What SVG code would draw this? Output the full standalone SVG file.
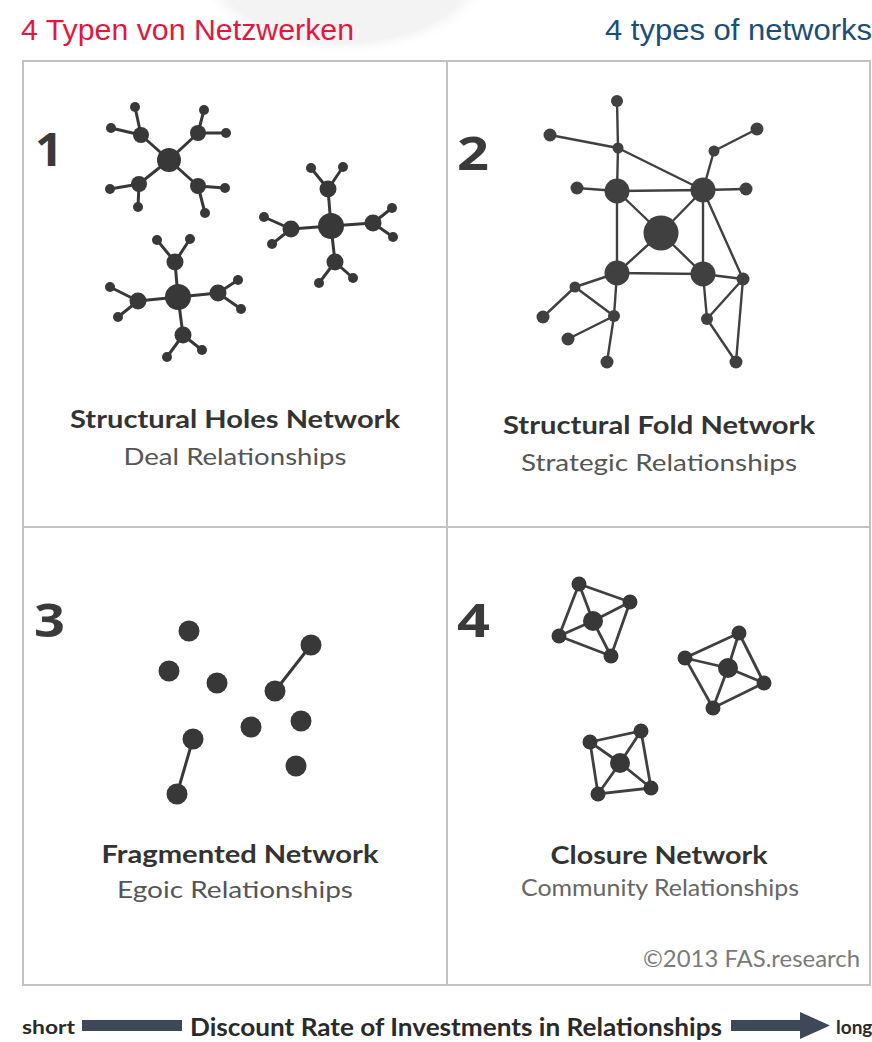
<svg xmlns="http://www.w3.org/2000/svg" width="872" height="1042" viewBox="0 0 872 1042">
  <defs>
    <radialGradient id="glow" cx="0.5" cy="0.5" r="0.5">
      <stop offset="0" stop-color="#f2f2f2"/>
      <stop offset="0.85" stop-color="#f3f3f3"/>
      <stop offset="1" stop-color="#ffffff" stop-opacity="0"/>
    </radialGradient>
  </defs>
  <style>
    .frame { fill: none; stroke: #c2c2c2; stroke-width: 2; }
    .edge { stroke: #383838; stroke-width: 3; stroke-linecap: round; fill: none; }
    .edge2 { stroke: #404040; stroke-width: 2.4; stroke-linecap: round; fill: none; }
    .n { fill: #383838; }
    .n2 { fill: #404040; }
    .head { font-family: "Liberation Sans Narrow", "Liberation Sans", sans-serif; font-size: 30px; }
    .num { font-family: "Open Sans", "Liberation Sans", sans-serif; font-weight: bold; font-size: 46px; fill: #3a3a3a; }
    .title { font-family: "Lato", "Open Sans", sans-serif; font-weight: bold; font-size: 25px; fill: #333; text-anchor: middle; }
    .sub { font-family: "Lato", "Open Sans", sans-serif; font-size: 24px; fill: #555; text-anchor: middle; }
    .foot { font-family: "Lato", "Open Sans", sans-serif; font-weight: bold; fill: #2a2a2a; }
  </style>

  <rect width="872" height="1042" fill="#ffffff"/>
  <!-- faint sphere in the page background -->
  <ellipse cx="345" cy="-30" rx="150" ry="85" fill="url(#glow)"/>

  <!-- headings -->
  <text class="head" x="21" y="40" fill="#e2173f" textLength="333" lengthAdjust="spacingAndGlyphs">4 Typen von Netzwerken</text>
  <text class="head" x="605" y="40" fill="#1b4e79" textLength="267" lengthAdjust="spacingAndGlyphs">4 types of networks</text>

  <!-- quadrant grid -->
  <g id="grid">
    <rect class="frame" x="23" y="61" width="847" height="924"/>
    <line class="frame" x1="447" y1="61" x2="447" y2="985"/>
    <line class="frame" x1="23" y1="527" x2="870" y2="527"/>
  </g>

  <!-- quadrant numbers -->
  <text class="num" x="35" y="166" textLength="28" lengthAdjust="spacingAndGlyphs">1</text>
  <text class="num" x="457" y="170" textLength="32" lengthAdjust="spacingAndGlyphs">2</text>
  <text class="num" x="34" y="637" textLength="31" lengthAdjust="spacingAndGlyphs">3</text>
  <text class="num" x="457" y="637" textLength="33" lengthAdjust="spacingAndGlyphs">4</text>

  <!-- connectors -->
  <g id="connectors">
    <!-- 1: structural holes, star A -->
    <g class="edge">
      <path d="M169 160L141 135M169 160L198 133M169 160L139 184M169 160L198 186"/>
      <path d="M141 135L135 107M141 135L111 128M198 133L204 110M198 133L226 133"/>
      <path d="M139 184L110 189M139 184L138 207M198 186L225 188M198 186L205 213"/>
      <!-- star B -->
      <path d="M331 226L328 189M331 226L291 229M331 226L373 223M331 226L335 262"/>
      <path d="M328 189L311 168M328 189L343 167M291 229L264 217M291 229L272 244"/>
      <path d="M373 223L392 208M373 223L393 237M335 262L319 283M335 262L353 278"/>
      <!-- star C -->
      <path d="M178 297L175 262M178 297L138 301M178 297L218 293M178 297L183 335"/>
      <path d="M175 262L157 240M175 262L190 239M138 301L110 287M138 301L118 317"/>
      <path d="M218 293L238 280M218 293L241 309M183 335L167 357M183 335L202 350"/>
    </g>
    <!-- 2: structural fold -->
    <g class="edge2">
      <path d="M617 101L618 148M550 135L618 148M618 148L617 191M618 148L703 190"/>
      <path d="M714 151L757 129M714 151L703 190M617 191L577 188M703 190L746 189"/>
      <path d="M617 191L703 190L703 274L617 273Z"/>
      <path d="M617 191L661 233M703 190L661 233M617 273L661 233M703 274L661 233"/>
      <path d="M703 190L743 279M703 274L743 279M703 274L707 319M707 319L743 279M743 279L736 362M707 319L736 362"/>
      <path d="M617 273L575 287M575 287L543 317M575 287L614 316M617 273L614 316M614 316L568 339M614 316L607 362"/>
    </g>
    <!-- 3: fragmented -->
    <g class="edge">
      <path d="M311 645L275 691M193 739L177 794"/>
    </g>
    <!-- 4: closure -->
    <g class="edge2" style="stroke-width:2.8">
      <path d="M579 584L630 602L611 656L559 636Z"/>
      <path d="M593 621L579 584M593 621L630 602M593 621L611 656M593 621L559 636"/>
      <path d="M739 633L764 683L713 708L685 658Z"/>
      <path d="M728 668L739 633M728 668L764 683M728 668L713 708M728 668L685 658"/>
      <path d="M590 742L641 731L651 788L598 794Z"/>
      <path d="M620 763L590 742M620 763L641 731M620 763L651 788M620 763L598 794"/>
    </g>
  </g>

  <!-- 1: structural holes network nodes -->
  <g id="holes-a" class="n">
    <g id="h-a0"><circle cx="169" cy="160" r="12"/></g>
    <g id="h-a1"><circle cx="141" cy="135" r="8"/></g>
    <g id="h-a2"><circle cx="198" cy="133" r="8"/></g>
    <g id="h-a3"><circle cx="139" cy="184" r="8"/></g>
    <g id="h-a4"><circle cx="198" cy="186" r="8"/></g>
    <g id="h-a5"><circle cx="135" cy="107" r="5"/></g>
    <g id="h-a6"><circle cx="111" cy="128" r="5"/></g>
    <g id="h-a7"><circle cx="204" cy="110" r="5"/></g>
    <g id="h-a8"><circle cx="226" cy="133" r="5"/></g>
    <g id="h-a9"><circle cx="110" cy="189" r="5"/></g>
    <g id="h-a10"><circle cx="138" cy="207" r="5"/></g>
    <g id="h-a11"><circle cx="225" cy="188" r="5"/></g>
    <g id="h-a12"><circle cx="205" cy="213" r="5"/></g>
  </g>
  <g id="holes-b" class="n">
    <g id="h-b0"><circle cx="331" cy="226" r="13"/></g>
    <g id="h-b1"><circle cx="328" cy="189" r="8.5"/></g>
    <g id="h-b2"><circle cx="291" cy="229" r="8.5"/></g>
    <g id="h-b3"><circle cx="373" cy="223" r="8.5"/></g>
    <g id="h-b4"><circle cx="335" cy="262" r="8.5"/></g>
    <g id="h-b5"><circle cx="311" cy="168" r="5"/></g>
    <g id="h-b6"><circle cx="343" cy="167" r="5"/></g>
    <g id="h-b7"><circle cx="264" cy="217" r="5"/></g>
    <g id="h-b8"><circle cx="272" cy="244" r="5"/></g>
    <g id="h-b9"><circle cx="392" cy="208" r="5"/></g>
    <g id="h-b10"><circle cx="393" cy="237" r="5"/></g>
    <g id="h-b11"><circle cx="319" cy="283" r="5"/></g>
    <g id="h-b12"><circle cx="353" cy="278" r="5"/></g>
  </g>
  <g id="holes-c" class="n">
    <g id="h-c0"><circle cx="178" cy="297" r="13"/></g>
    <g id="h-c1"><circle cx="175" cy="262" r="8.5"/></g>
    <g id="h-c2"><circle cx="138" cy="301" r="8.5"/></g>
    <g id="h-c3"><circle cx="218" cy="293" r="8.5"/></g>
    <g id="h-c4"><circle cx="183" cy="335" r="8.5"/></g>
    <g id="h-c5"><circle cx="157" cy="240" r="5"/></g>
    <g id="h-c6"><circle cx="190" cy="239" r="5"/></g>
    <g id="h-c7"><circle cx="110" cy="287" r="5"/></g>
    <g id="h-c8"><circle cx="118" cy="317" r="5"/></g>
    <g id="h-c9"><circle cx="238" cy="280" r="5"/></g>
    <g id="h-c10"><circle cx="241" cy="309" r="5"/></g>
    <g id="h-c11"><circle cx="167" cy="357" r="5"/></g>
    <g id="h-c12"><circle cx="202" cy="350" r="5"/></g>
  </g>

  <!-- 2: structural fold network nodes -->
  <g id="fold" class="n2">
    <g id="f-top"><circle cx="617" cy="101" r="6"/></g>
    <g id="f-farleft"><circle cx="550" cy="135" r="6.5"/></g>
    <g id="f-a"><circle cx="618" cy="148" r="5.5"/></g>
    <g id="f-rtop"><circle cx="757" cy="129" r="6.5"/></g>
    <g id="f-b"><circle cx="714" cy="151" r="5.5"/></g>
    <g id="f-tl"><circle cx="617" cy="191" r="12.5"/></g>
    <g id="f-lleaf"><circle cx="577" cy="188" r="6.5"/></g>
    <g id="f-tr"><circle cx="703" cy="190" r="12.5"/></g>
    <g id="f-rleaf"><circle cx="746" cy="189" r="6.5"/></g>
    <g id="f-center"><circle cx="661" cy="233" r="17.5"/></g>
    <g id="f-bl"><circle cx="617" cy="273" r="12.5"/></g>
    <g id="f-br"><circle cx="703" cy="274" r="12.5"/></g>
    <g id="f-c"><circle cx="743" cy="279" r="6.5"/></g>
    <g id="f-d"><circle cx="575" cy="287" r="5.5"/></g>
    <g id="f-e"><circle cx="614" cy="316" r="6"/></g>
    <g id="f-f"><circle cx="543" cy="317" r="6.5"/></g>
    <g id="f-g"><circle cx="707" cy="319" r="6"/></g>
    <g id="f-h"><circle cx="568" cy="339" r="6.5"/></g>
    <g id="f-i"><circle cx="607" cy="362" r="6.5"/></g>
    <g id="f-j"><circle cx="736" cy="362" r="6.5"/></g>
  </g>

  <!-- 3: fragmented network nodes -->
  <g id="fragmented" class="n">
    <g id="g-1"><circle cx="189" cy="631" r="10.5"/></g>
    <g id="g-2"><circle cx="169" cy="671" r="10.5"/></g>
    <g id="g-3"><circle cx="217" cy="683" r="10.5"/></g>
    <g id="g-4"><circle cx="311" cy="645" r="10.5"/></g>
    <g id="g-5"><circle cx="275" cy="691" r="10.5"/></g>
    <g id="g-6"><circle cx="251" cy="727" r="10.5"/></g>
    <g id="g-7"><circle cx="301" cy="721" r="10.5"/></g>
    <g id="g-8"><circle cx="193" cy="739" r="10.5"/></g>
    <g id="g-9"><circle cx="177" cy="794" r="10.5"/></g>
    <g id="g-10"><circle cx="296" cy="766" r="10.5"/></g>
  </g>

  <!-- 4: closure network nodes -->
  <g id="closure-a" class="n">
    <g id="c-a0"><circle cx="593" cy="621" r="10"/></g>
    <g id="c-a1"><circle cx="579" cy="584" r="7.5"/></g>
    <g id="c-a2"><circle cx="630" cy="602" r="7.5"/></g>
    <g id="c-a3"><circle cx="611" cy="656" r="7.5"/></g>
    <g id="c-a4"><circle cx="559" cy="636" r="7.5"/></g>
  </g>
  <g id="closure-b" class="n">
    <g id="c-b0"><circle cx="728" cy="668" r="10"/></g>
    <g id="c-b1"><circle cx="739" cy="633" r="7.5"/></g>
    <g id="c-b2"><circle cx="764" cy="683" r="7.5"/></g>
    <g id="c-b3"><circle cx="713" cy="708" r="7.5"/></g>
    <g id="c-b4"><circle cx="685" cy="658" r="7.5"/></g>
  </g>
  <g id="closure-c" class="n">
    <g id="c-c0"><circle cx="620" cy="763" r="10"/></g>
    <g id="c-c1"><circle cx="590" cy="742" r="7.5"/></g>
    <g id="c-c2"><circle cx="641" cy="731" r="7.5"/></g>
    <g id="c-c3"><circle cx="651" cy="788" r="7.5"/></g>
    <g id="c-c4"><circle cx="598" cy="794" r="7.5"/></g>
  </g>

  <!-- captions -->
  <text class="title" x="235" y="428" textLength="330" lengthAdjust="spacingAndGlyphs">Structural Holes Network</text>
  <text class="sub" x="235" y="465" textLength="223" lengthAdjust="spacingAndGlyphs">Deal Relationships</text>
  <text class="title" x="659" y="434" textLength="312" lengthAdjust="spacingAndGlyphs">Structural Fold Network</text>
  <text class="sub" x="659" y="471" textLength="276" lengthAdjust="spacingAndGlyphs">Strategic Relationships</text>
  <text class="title" x="240" y="863" textLength="277" lengthAdjust="spacingAndGlyphs">Fragmented Network</text>
  <text class="sub" x="235" y="898" textLength="236" lengthAdjust="spacingAndGlyphs">Egoic Relationships</text>
  <text class="title" x="659" y="864" textLength="217" lengthAdjust="spacingAndGlyphs">Closure Network</text>
  <text class="sub" x="660" y="896" textLength="278" lengthAdjust="spacingAndGlyphs" style="fill:#666">Community Relationships</text>
  <text x="643" y="967" font-family="Lato, 'Open Sans', sans-serif" font-size="23" fill="#7a7a7a" textLength="217" lengthAdjust="spacingAndGlyphs">©2013 FAS.research</text>

  <!-- discount-rate axis -->
  <g id="axis">
    <text class="foot" x="22" y="1034" font-size="18" textLength="53" lengthAdjust="spacingAndGlyphs">short</text>
    <rect x="82" y="1020" width="100" height="11" fill="#3e4859"/>
    <text class="foot" x="190" y="1036" font-size="24" textLength="532" lengthAdjust="spacingAndGlyphs">Discount Rate of Investments in Relationships</text>
    <path d="M731 1020H800V1012L830 1025.5L800 1039V1031H731Z" fill="#3e4859"/>
    <text class="foot" x="836" y="1034" font-size="19">long</text>
  </g>
</svg>
